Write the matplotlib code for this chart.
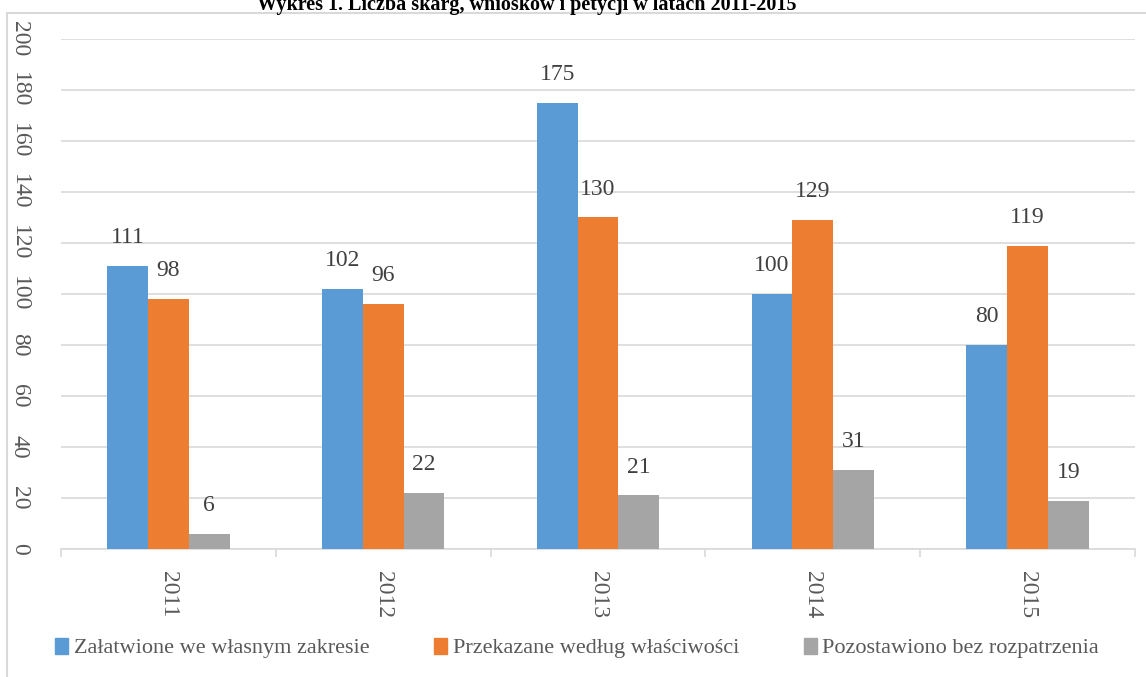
import matplotlib.pyplot as plt
import numpy as np
from matplotlib.patches import Patch, Rectangle

plt.rcParams['font.family'] = ['Liberation Serif', 'DejaVu Serif']

# Data
years = ['2011', '2012', '2013', '2014', '2015']
zalatwione = [111, 102, 175, 100, 80]
przekazane = [98, 96, 130, 129, 119]
pozostawiono = [6, 22, 21, 31, 19]
series_names = ['Załatwione we własnym zakresie',
                'Przekazane według właściwości',
                'Pozostawiono bez rozpatrzenia']
colors = ['#5B9BD5', '#ED7D31', '#A5A5A5']

fig = plt.figure(figsize=(11.46, 6.77), dpi=100)
ax = fig.add_axes([61 / 1146, (677 - 549) / 677, 1074 / 1146, 510 / 677])

# outer chart border
fig.patches.append(Rectangle((7 / 1146, -0.05), 1.1, 1 - 13 / 677 + 0.05,
                             transform=fig.transFigure, fill=False,
                             edgecolor='#D9D9D9', linewidth=1.5, zorder=0))

x = np.arange(len(years))
w = 0.19
for i, (vals, col) in enumerate(zip([zalatwione, przekazane, pozostawiono], colors)):
    bars = ax.bar(x + (i - 1) * w, vals, w, color=col, zorder=3)
    for b, v in zip(bars, vals):
        ax.text(b.get_x() + b.get_width() / 2, v + 7, str(v), ha='center', va='bottom',
                fontsize=17, color='#404040')

ax.set_xlim(-0.5, len(years) - 0.5)
ax.set_ylim(0, 200)
ax.set_yticks(range(0, 201, 20))
ax.yaxis.grid(True, color='#D9D9D9', linewidth=1.2, zorder=0)
ax.set_axisbelow(True)
for s in ['top', 'right', 'left']:
    ax.spines[s].set_visible(False)
ax.spines['bottom'].set_color('#D9D9D9')
ax.spines['bottom'].set_linewidth(1.2)

ax.set_xticks(x)
ax.set_xticklabels(years, rotation=270, fontsize=17, color='#595959')
ax.tick_params(axis='x', length=0, pad=16)
ax.set_xticks(np.arange(-0.5, len(years), 1), minor=True)
ax.tick_params(axis='x', which='minor', length=6, color='#D9D9D9', width=1.2)
ax.tick_params(axis='y', length=0, pad=30, labelsize=17, labelcolor='#595959')
for lab in ax.get_yticklabels():
    lab.set_rotation(270)
    lab.set_va('center')
    lab.set_ha('center')

fig.text(0.46, 1 - 10 / 677, 'Wykres 1. Liczba skarg, wniosków i petycji w latach 2011-2015',
         ha='center', va='baseline', fontsize=14.5, fontweight='bold')

handles = [Patch(color=c) for c in colors]
fig.legend(handles, series_names, loc='center', bbox_to_anchor=(577 / 1146, 1 - 648 / 677),
           ncol=3, frameon=False, fontsize=16, handlelength=0.6, handleheight=0.75,
           handletextpad=0.25, columnspacing=2.9, labelcolor='#595959')

fig.savefig('out.png', dpi=100)
